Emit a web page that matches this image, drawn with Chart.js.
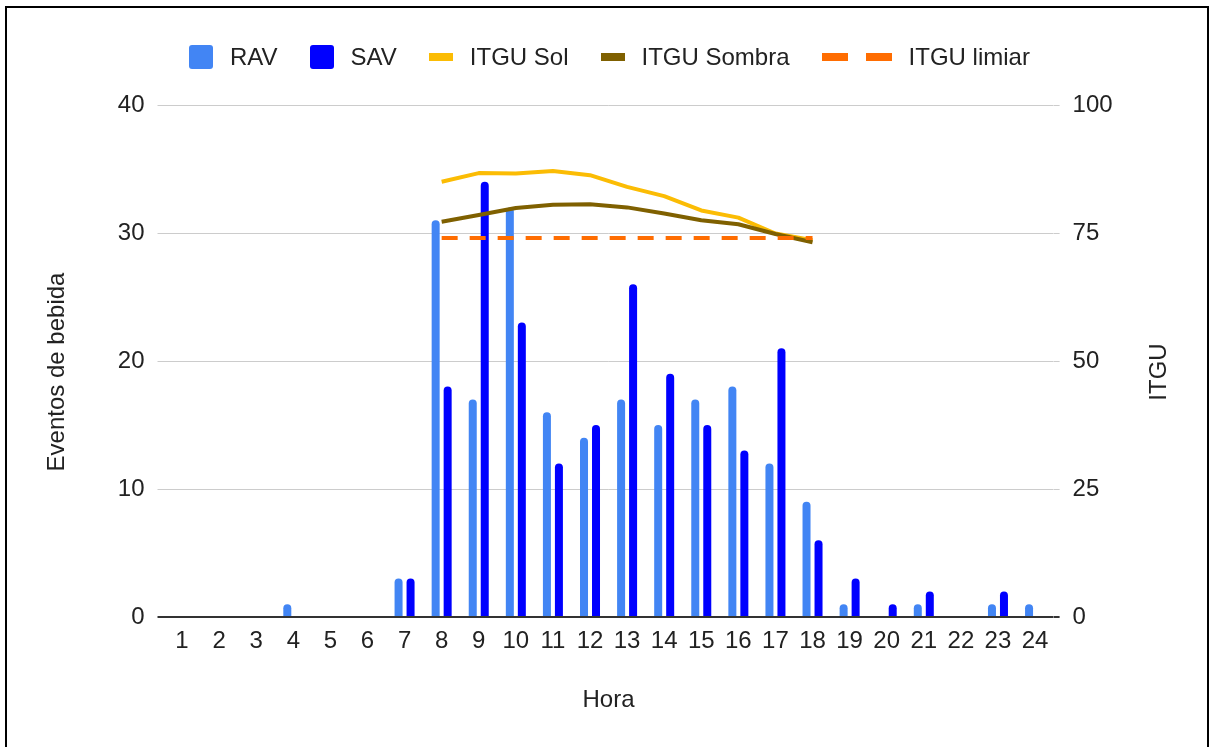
<!DOCTYPE html>
<html>
<head>
<meta charset="utf-8">
<script src="https://cdn.jsdelivr.net/npm/chart.js@4.4.1/dist/chart.umd.min.js"></script>
<style>
  html, body { margin: 0; padding: 0; background: #fff; overflow: hidden; }
  #wrap { position: relative; width: 1211px; height: 747px; }
  #frame { position: absolute; left: 5px; top: 6px; width: 1200px; height: 800px; border: 2px solid #000; pointer-events: none; }
  #legend { position: absolute; left: 189px; top: 45px; height: 24px; display: flex; align-items: center;
            font: 24px "Liberation Sans", Arial, sans-serif; color: #222; white-space: nowrap; }
  .item { display: flex; align-items: center; margin-right: 32px; }
  .mark { display: flex; align-items: center; margin-right: 17px; }
  .box { width: 24px; height: 24px; border-radius: 3px; }
  .line { width: 24px; height: 8px; }
  .dash { width: 26px; height: 8px; }
  .dash + .dash { margin-left: 18px; }
</style>
</head>
<body>
<div id="wrap">
  <canvas id="chart" width="1211" height="747"></canvas>
  <div id="legend"></div>
  <div id="frame"></div>
</div>
<script>
const hours = ['1','2','3','4','5','6','7','8','9','10','11','12','13','14','15','16','17','18','19','20','21','22','23','24'];
const rav = [0,0,0,1,0,0,3,31,17,32,16,14,17,15,17,18,12,9,1,0,1,0,1,1];
const sav = [0,0,0,0,0,0,3,18,34,23,12,15,26,19,15,13,21,6,3,1,2,0,2,0];
const itguSol = [null,null,null,null,null,null,null,85.0,86.7,86.6,87.1,86.3,84.0,82.2,79.4,78.0,74.9,73.6,null,null,null,null,null,null];
const itguSombra = [null,null,null,null,null,null,null,77.2,78.5,79.9,80.5,80.6,80.0,78.8,77.5,76.7,74.8,73.2,null,null,null,null,null,null];
const itguLimiar = [null,null,null,null,null,null,null,74,74,74,74,74,74,74,74,74,74,74,null,null,null,null,null,null];
const leftTicks = [0, 10, 20, 30, 40];
const rightTicks = [0, 25, 50, 75, 100];

const FONT = '"Liberation Sans", Arial, sans-serif';
const SIZE = 24;
const TEXT = '#222';
const gridColor = c => (c.tick && c.tick.value === 0) ? '#333' : '#ccc';
const gridWidth = c => (c.tick && c.tick.value === 0) ? 2 : 1;

const yTitles = {
  id: 'yTitles',
  afterDraw(chart) {
    const ctx = chart.ctx;
    const cy = (chart.chartArea.top + chart.chartArea.bottom) / 2 + 11;
    ctx.save();
    ctx.font = SIZE + 'px ' + FONT;
    ctx.fillStyle = TEXT;
    ctx.textAlign = 'center';
    ctx.textBaseline = 'middle';
    [['Eventos de bebida', 57], ['ITGU', 1159]].forEach(([t, x]) => {
      ctx.save();
      ctx.translate(x, cy);
      ctx.rotate(-Math.PI / 2);
      ctx.fillText(t, 0, 0);
      ctx.restore();
    });
    ctx.restore();
  }
};

const barOpts = { categoryPercentage: 0.647, barPercentage: 0.667, borderRadius: 4, yAxisID: 'y', order: 5 };
const lineOpts = { type: 'line', yAxisID: 'y1', borderWidth: 4, pointRadius: 0, tension: 0, spanGaps: false, fill: false, borderJoinStyle: 'round' };

const chart = new Chart(document.getElementById('chart'), {
  type: 'bar',
  data: {
    labels: hours,
    datasets: [
      { ...barOpts, label: 'RAV', data: rav, backgroundColor: '#4285F4' },
      { ...barOpts, label: 'SAV', data: sav, backgroundColor: '#0000FF' },
      { ...lineOpts, label: 'ITGU Sol', data: itguSol, borderColor: '#FBBC04', order: 3 },
      { ...lineOpts, label: 'ITGU Sombra', data: itguSombra, borderColor: '#7F6000', order: 2 },
      { ...lineOpts, label: 'ITGU limiar', data: itguLimiar, borderColor: '#FF6D01', borderDash: [16, 12], borderCapStyle: 'butt', order: 1 }
    ]
  },
  options: {
    responsive: false,
    animation: false,
    layout: { padding: { top: 105, left: 0, right: 0, bottom: 0 } },
    plugins: { legend: { display: false }, tooltip: { enabled: false } },
    scales: {
      x: {
        grid: { display: false, drawTicks: false },
        border: { display: false },
        ticks: { color: TEXT, font: { family: FONT, size: SIZE }, padding: 10, maxRotation: 0, autoSkip: false },
        title: { display: true, text: 'Hora', color: TEXT, font: { family: FONT, size: SIZE }, padding: { top: 0, bottom: 32 } },
        afterFit(s) { s.height = 130; }
      },
      y: {
        position: 'left',
        min: leftTicks[0], max: leftTicks[leftTicks.length - 1],
        afterBuildTicks(s) { s.ticks = leftTicks.map(v => ({ value: v })); },
        grid: { color: gridColor, lineWidth: gridWidth, tickLength: 6 },
        border: { display: false },
        ticks: { color: TEXT, font: { family: FONT, size: SIZE }, padding: 13 },
        afterFit(s) { s.width = 163.5; }
      },
      y1: {
        position: 'right',
        min: rightTicks[0], max: rightTicks[rightTicks.length - 1],
        afterBuildTicks(s) { s.ticks = rightTicks.map(v => ({ value: v })); },
        grid: { color: gridColor, lineWidth: gridWidth, tickLength: 6, drawOnChartArea: false },
        border: { display: false },
        ticks: { color: TEXT, font: { family: FONT, size: SIZE }, padding: 13 },
        afterFit(s) { s.width = 157.4; }
      }
    }
  },
  plugins: [yTitles]
});

// html legend built from the datasets
const legend = document.getElementById('legend');
chart.data.datasets.forEach(ds => {
  const item = document.createElement('div');
  item.className = 'item';
  const mark = document.createElement('div');
  mark.className = 'mark';
  if (ds.type !== 'line') {
    mark.innerHTML = '<div class="box" style="background:' + ds.backgroundColor + '"></div>';
  } else if (ds.borderDash) {
    mark.innerHTML = '<div class="dash" style="background:' + ds.borderColor + '"></div><div class="dash" style="background:' + ds.borderColor + '"></div>';
  } else {
    mark.innerHTML = '<div class="line" style="background:' + ds.borderColor + '"></div>';
  }
  const label = document.createElement('span');
  label.textContent = ds.label;
  item.appendChild(mark);
  item.appendChild(label);
  legend.appendChild(item);
});
</script>
</body>
</html>
